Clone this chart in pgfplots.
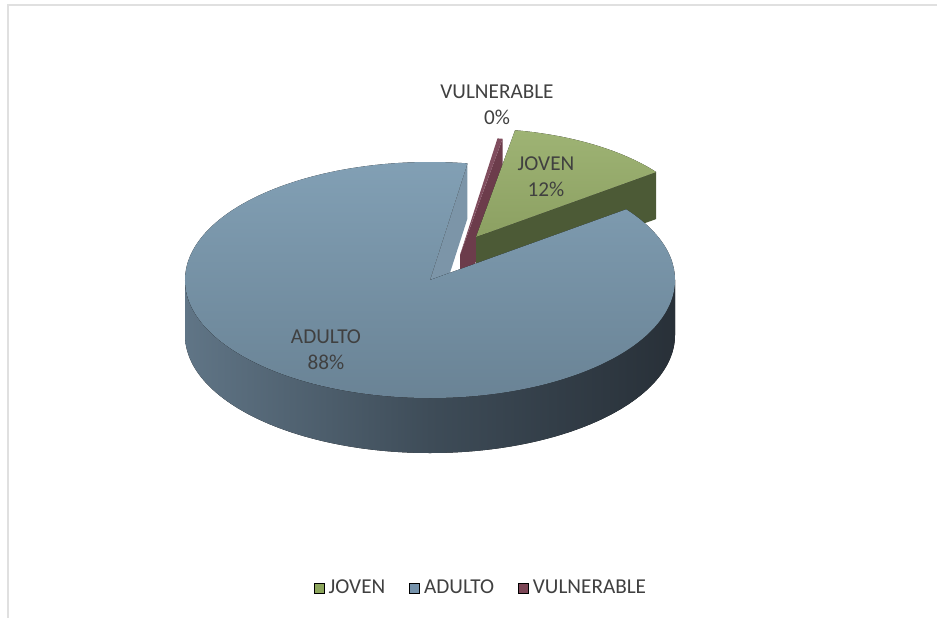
\documentclass[border=0pt]{standalone}
\usepackage{pgfplots}
\pgfplotsset{compat=1.18}
\usepackage{pgfplotstable}
\usepackage{fontspec}
\setmainfont{Carlito}
\definecolor{txt}{RGB}{64,64,64}
\definecolor{aTop}{RGB}{130,160,181}
\definecolor{aTopB}{RGB}{104,129,147}
\definecolor{aSideL}{RGB}{96,117,134}
\definecolor{aSideM}{RGB}{62,76,88}
\definecolor{aSideR}{RGB}{40,48,56}
\definecolor{aFace}{RGB}{124,149,168}
\definecolor{jTop}{RGB}{158,179,116}
\definecolor{jTopB}{RGB}{140,160,98}
\definecolor{jFace}{RGB}{76,90,54}
\definecolor{vTop}{RGB}{128,77,94}
\definecolor{vFace}{RGB}{108,60,75}
\definecolor{legJ}{RGB}{140,165,92}
\definecolor{legA}{RGB}{117,146,171}
\definecolor{legV}{RGB}{124,70,86}
\definecolor{frame}{RGB}{224,224,224}
\pgfplotsset{sq/.style={legend image code/.code={\fill[##1] (0pt,-2.5pt) rectangle (5pt,2.5pt);}}}

\pgfplotstableread{
label value
JOVEN 36
ADULTO 263
VULNERABLE 1
}\piedata

\begin{document}%
\begin{tikzpicture}[font=\fontsize{10.6}{13}\selectfont]
\pgfplotstablegetelem{0}{value}\of\piedata \let\vJ\pgfplotsretval
\pgfplotstablegetelem{1}{value}\of\piedata \let\vA\pgfplotsretval
\pgfplotstablegetelem{2}{value}\of\piedata \let\vV\pgfplotsretval
\pgfmathsetmacro\tot{\vJ+\vA+\vV}
\pgfmathsetmacro\aJ{360*\vJ/\tot}
\pgfmathsetmacro\aV{360*\vV/\tot}
\def\tS{80}
\pgfmathsetmacro\jEnd{\tS-\aJ}
\pgfmathsetmacro\vStart{\tS+\aV}
\pgfmathsetmacro\aEnd{\tS+\aV-360}
\useasboundingbox (0,0) rectangle (468.5pt,309pt);
\begin{axis}[at={(0pt,0pt)},anchor=south west,x=0.5pt,y=0.5pt,xmin=0,xmax=937,ymin=0,ymax=618,
  hide axis,ticks=none,clip=false,
  legend columns=3,
  legend style={at={(axis cs:482,30)},anchor=center,draw=none,fill=none,
    font=\fontsize{10.6}{13}\selectfont\color{txt},
    /tikz/every even column/.append style={column sep=10pt}},
]
\addlegendimage{sq, fill=legJ}\addlegendentry{JOVEN}
\addlegendimage{sq, fill=legA}\addlegendentry{ADULTO}
\addlegendimage{sq, fill=legV}\addlegendentry{VULNERABLE}
% frame
\draw[frame, line width=1pt] (axis cs:8,0) -- (axis cs:8,612.5) -- (axis cs:937,612.5);
% VULNERABLE (exploded)
\fill[vFace] (axis cs:460,363) -- ++(\tS:122.5pt and 59pt) -- ++(0,-25pt) -- ([yshift=-25pt]axis cs:460,363) -- cycle;
\fill[vTop] (axis cs:460,363) -- ++(\vStart:122.5pt and 59pt) arc[start angle=\vStart,end angle=\tS,x radius=122.5pt,y radius=59pt] -- cycle;
% JOVEN (exploded)
\fill[jFace] (axis cs:476,381) -- ++(\jEnd:112.5pt and 54.2pt) -- ++(0,-23.5pt) -- ([yshift=-23.5pt]axis cs:476,381) -- cycle;
\fill[top color=jTop,bottom color=jTopB] (axis cs:476,381) -- ++(\tS:112.5pt and 54.2pt) arc[start angle=\tS,end angle=\jEnd,x radius=112.5pt,y radius=54.2pt] -- cycle;
% ADULTO
\fill[aFace] (axis cs:430,338) -- ++(\vStart:122.5pt and 59pt) -- ++(0,-27.5pt) -- ([yshift=-27.5pt]axis cs:430,338) -- cycle;
\fill[left color=aSideL,right color=aSideR,middle color=aSideM] (axis cs:430,338) ++(180:122.5pt and 59pt) arc[start angle=180,end angle=360,x radius=122.5pt,y radius=59pt] -- ++(0,-27.5pt) arc[start angle=360,end angle=180,x radius=122.5pt,y radius=59pt] -- cycle;
\fill[top color=aTop,bottom color=aTopB] (axis cs:430,338) -- ++(\jEnd:122.5pt and 59pt) arc[start angle=\jEnd,end angle=\aEnd,x radius=122.5pt,y radius=59pt] -- cycle;
% labels
\node[align=center,text=txt] at (axis cs:546,441) {JOVEN\\12\%};
\node[align=center,text=txt] at (axis cs:326,268) {ADULTO\\88\%};
\node[align=center,text=txt] at (axis cs:497,513) {VULNERABLE\\0\%};
\end{axis}
\end{tikzpicture}%
\end{document}
